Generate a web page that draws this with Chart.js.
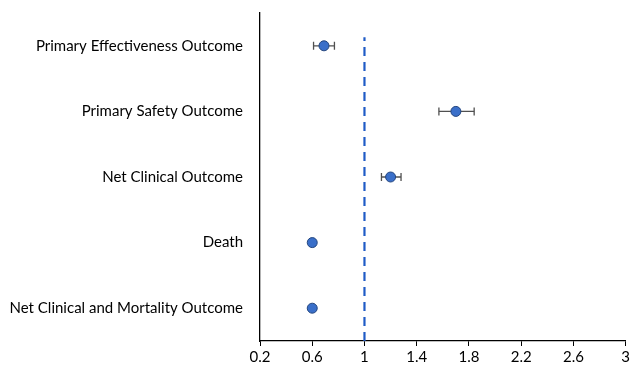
<!DOCTYPE html>
<html>
<head>
<meta charset="utf-8">
<script src="https://cdn.jsdelivr.net/npm/chart.js@4"></script>
<style>
  html, body { margin: 0; padding: 0; background: #fff; }
  #wrap { width: 632px; height: 368px; }
</style>
</head>
<body>
<div id="wrap"><canvas id="chart"></canvas></div>
<script>
// forest plot values
const categories = ['Primary Effectiveness Outcome', 'Primary Safety Outcome', 'Net Clinical Outcome', 'Death', 'Net Clinical and Mortality Outcome'];
const estimates = [0.69, 1.70, 1.20, 0.60, 0.60];
const lower = [0.61, 1.57, 1.13, null, null];
const upper = [0.77, 1.84, 1.28, null, null];
const rowPos = [4.5, 3.5, 2.5, 1.5, 0.5];
const xTicks = [0.2, 0.6, 1, 1.4, 1.8, 2.2, 2.6, 3];
const refX = 1;
const refTop = 4.63;

const font = { family: 'Lato, "Open Sans", sans-serif', size: 15 };

const datasets = [{
    type: 'scatter',
    data: estimates.map((v, i) => ({ x: v, y: rowPos[i] })),
    backgroundColor: '#3A6FC9',
    borderColor: '#24467F',
    borderWidth: 1,
    pointRadius: 5
}];

// error bars, one little line per row
lower.forEach((lo, i) => {
    if (lo == null) return;
    datasets.push({
        type: 'line',
        data: [{ x: lo, y: rowPos[i] }, { x: upper[i], y: rowPos[i] }],
        borderColor: '#505050',
        borderWidth: 1.3,
        pointStyle: 'line',
        rotation: 90,
        pointRadius: 4,
        pointBorderColor: '#505050',
        pointBorderWidth: 1.3
    });
});

datasets.push({
    type: 'line',
    data: [{ x: refX, y: 0 }, { x: refX, y: refTop }],
    borderColor: '#1F5BC6',
    borderWidth: 2.2,
    borderDash: [9, 6],
    pointRadius: 0
});

new Chart(document.getElementById('chart').getContext('2d'), {
    data: { datasets },
    options: {
        responsive: true,
        maintainAspectRatio: false,
        animation: false,
        layout: { autoPadding: false, padding: { top: 13, right: 4, left: 0, bottom: 0 } },
        scales: {
            x: {
                type: 'linear',
                min: 0.2,
                max: 3,
                afterBuildTicks: (scale) => { scale.ticks = xTicks.map(v => ({ value: v })); },
                afterFit: (scale) => { scale.height = 27; },
                grid: { drawOnChartArea: false, drawTicks: true, tickLength: 5, color: '#000' },
                border: { color: '#000', width: 1.3 },
                ticks: { color: '#000', font, padding: 2, maxRotation: 0, callback: (v) => String(v) }
            },
            y: {
                type: 'linear',
                min: 0,
                max: 5,
                afterBuildTicks: (scale) => { scale.ticks = rowPos.map(v => ({ value: v })); },
                afterFit: (scale) => { scale.width = 260; scale.paddingTop = 0; scale.paddingBottom = 0; },
                grid: { display: false, drawTicks: false },
                border: { color: '#000', width: 1.3 },
                ticks: {
                    color: '#000',
                    font,
                    padding: 17,
                    callback: (v) => categories[rowPos.indexOf(v)] || ''
                }
            }
        },
        plugins: {
            legend: { display: false },
            tooltip: { enabled: false }
        }
    }
});
</script>
</body>
</html>
